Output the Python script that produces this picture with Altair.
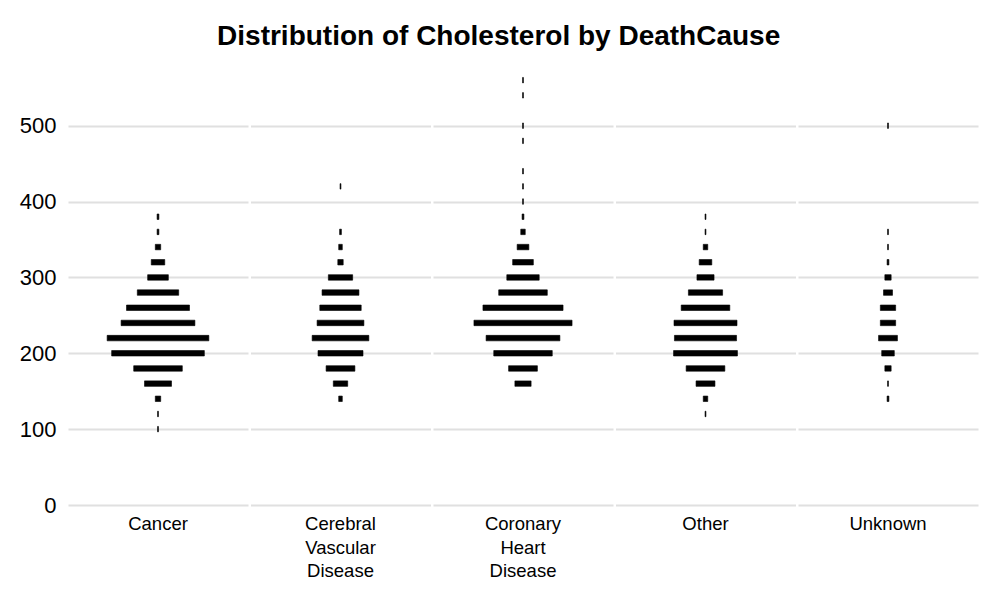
import altair as alt
import pandas as pd

causes = ["Cancer", "Cerebral Vascular Disease", "Coronary Heart Disease", "Other", "Unknown"]

# cholesterol bin centers (width 20) and counts per cause
cancer_bins = [100, 120, 140, 160, 180, 200, 220, 240, 260, 280, 300, 320, 340, 360, 380]
cancer_counts = [1, 1, 6, 30, 54, 103, 113, 82, 70, 46, 23, 15, 6, 2, 2]

cerebral_bins = [140, 160, 180, 200, 220, 240, 260, 280, 300, 320, 340, 360, 420]
cerebral_counts = [4, 16, 32, 50, 63, 52, 46, 41, 27, 6, 4, 2, 1]

coronary_bins = [160, 180, 200, 220, 240, 260, 280, 300, 320, 340, 360, 380, 400, 420, 440, 480, 500, 540, 560]
coronary_counts = [18, 32, 65, 82, 109, 89, 54, 36, 23, 13, 5, 2, 1, 1, 1, 1, 1, 1, 1]

other_bins = [120, 140, 160, 180, 200, 220, 240, 260, 280, 300, 320, 340, 360, 380]
other_counts = [1, 5, 21, 43, 71, 69, 70, 54, 38, 19, 14, 5, 1, 1]

unknown_bins = [140, 160, 180, 200, 220, 240, 260, 280, 300, 320, 340, 360, 500]
unknown_counts = [2, 1, 7, 14, 21, 17, 17, 10, 7, 2, 1, 1, 1]

y_ticks = [0, 100, 200, 300, 400, 500]

rows = []
for cause, bins, counts in zip(
    causes,
    [cancer_bins, cerebral_bins, coronary_bins, other_bins, unknown_bins],
    [cancer_counts, cerebral_counts, coronary_counts, other_counts, unknown_counts],
):
    for b, c in zip(bins, counts):
        rows.append({"DeathCause": cause, "Cholesterol": b, "Count": c})
df = pd.DataFrame(rows)

FONT = "Liberation Sans"

chart = (
    alt.Chart(df)
    .transform_calculate(
        xlo="-datum.Count / 2",
        xhi="datum.Count / 2",
        ylo="datum.Cholesterol - 3.6",
        yhi="datum.Cholesterol + 3.6",
    )
    .mark_rect(color="black", stroke="black", strokeWidth=0.6)
    .encode(
        x=alt.X("xlo:Q", scale=alt.Scale(domain=[-100, 100], nice=False), axis=None),
        x2="xhi:Q",
        y=alt.Y(
            "ylo:Q",
            scale=alt.Scale(domain=[0, 580], nice=False, zero=False),
            axis=alt.Axis(
                values=y_ticks,
                title=None,
                domain=False,
                ticks=False,
                labelFontSize=22,
                labelFont=FONT,
                labelColor="black",
                labelPadding=12,
                grid=True,
                gridColor="#e0e0e0",
                gridWidth=2,
            ),
        ),
        y2="yhi:Q",
    )
    .properties(width=180, height=440)
    .facet(
        column=alt.Column(
            "DeathCause:N",
            sort=causes,
            header=alt.Header(
                title=None,
                labelOrient="bottom",
                labelFont=FONT,
                labelFontSize=18.5,
                labelColor="black",
                labelExpr="split(datum.value, ' ')",
                labelLineHeight=23.5,
                labelBaseline="top",
                labelPadding=10,
            ),
        ),
        spacing=2.5,
        title=alt.TitleParams(
            "Distribution of Cholesterol by DeathCause",
            font=FONT,
            fontSize=28,
            fontWeight="bold",
            color="black",
            anchor="middle",
            frame="bounds",
            offset=14,
        ),
    )
    .configure_view(stroke=None)
    .properties(padding={"left": 11, "top": 15, "right": 10, "bottom": 5})
)

chart.save("out.html", embed_options={"renderer": "svg", "actions": False})
